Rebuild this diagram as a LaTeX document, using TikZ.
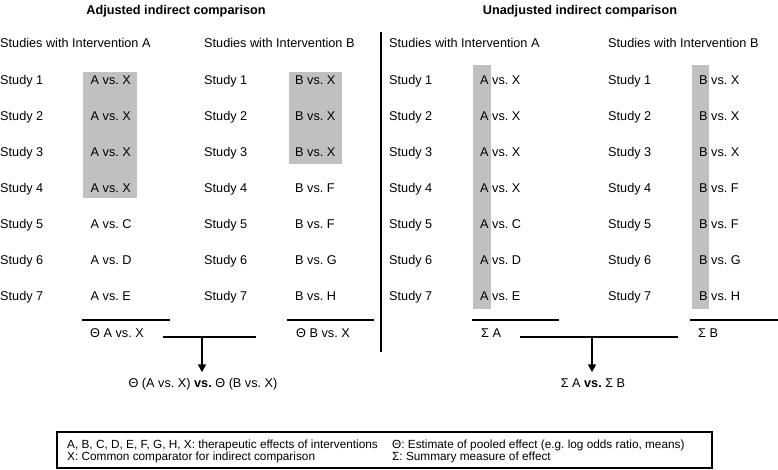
\documentclass[tikz,border=0pt]{standalone}
\usepackage{fontspec}
\setmainfont{Liberation Sans}
\usetikzlibrary{arrows.meta}
\definecolor{boxgrey}{RGB}{192,192,192}

\begin{document}
\frenchspacing
\begin{tikzpicture}[x=1pt, y=-1pt,
  txt/.style={anchor=west, inner sep=0pt, text height=9.1pt, text depth=0pt, font=\fontsize{12.7}{15}\selectfont},
  ttl/.style={inner sep=0pt, text height=9.1pt, text depth=0pt, font=\fontsize{12.7}{15}\selectfont\bfseries},
  note/.style={anchor=west, inner sep=0pt, text height=8.5pt, text depth=0pt, font=\fontsize{11.8}{14}\selectfont},
  rule/.style={line width=1.2pt},
  link/.style={line width=1.6pt},
  tip/.style={-{Triangle[length=8pt,width=8pt]}}]
\useasboundingbox (0,0) rectangle (778,469);

% grey marks behind the rows
\fill[boxgrey] (83,72) rectangle (137,198);
\fill[boxgrey] (289,72) rectangle (342,164);
\fill[boxgrey] (473,65) rectangle (491,309);
\fill[boxgrey] (692,65) rectangle (709,309);

\node[ttl] (adj) at (176,10) {Adjusted indirect comparison};
\node[ttl] (unadj) at (580,10) {Unadjusted indirect comparison};

\node[txt] (ha) at (0,43) {Studies with Intervention A};
\node[txt] (hb) at (204,43) {Studies with Intervention B};
\node[txt] (uha) at (389,43) {Studies with Intervention A};
\node[txt] (uhb) at (608,43) {Studies with Intervention B};

\foreach \i/\a/\b in {1/X/X, 2/X/X, 3/X/X, 4/X/F, 5/C/F, 6/D/G, 7/E/H} {
  \pgfmathsetmacro\y{44+36*\i}
  \node[txt] (sa\i) at (0,\y) {Study \i};
  \node[txt] (va\i) at (90.5,\y) {A vs. \a};
  \node[txt] (sb\i) at (204,\y) {Study \i};
  \node[txt] (vb\i) at (295,\y) {B vs. \b};
  \node[txt] (usa\i) at (389,\y) {Study \i};
  \node[txt] (uva\i) at (480,\y) {A vs. \a};
  \node[txt] (usb\i) at (608,\y) {Study \i};
  \node[txt] (uvb\i) at (699,\y) {B vs. \b};
}

\draw[rule] (381,32) -- (381,352);

% adjusted
\draw[rule] (82,320) -- (170,320);
\draw[rule] (287,320) -- (374,320);
\node[txt] (tha) at (90,333) {Θ A vs. X};
\node[txt] (thb) at (296,333) {Θ B vs. X};
\coordinate (lj) at (202,337);
\draw[link] (163,337) -- (256,337);
\node[txt, anchor=center] (res) at (203,383) {Θ (A vs. X) \textbf{vs.} Θ (B vs. X)};
\draw[link, tip] (lj) -- ([yshift=6pt]res.north -| lj);

% unadjusted
\draw[rule] (472,320) -- (559,320);
\draw[rule] (690,320) -- (778,320);
\node[txt] (sma) at (481,333) {Σ A};
\node[txt] (smb) at (698,333) {Σ B};
\coordinate (rj) at (592,337);
\draw[link] (520,337) -- (678,337);
\node[txt, anchor=center] (ures) at (593,383) {Σ A \textbf{vs.} Σ B};
\draw[link, tip] (rj) -- ([yshift=6pt]ures.north -| rj);

% legend
\draw[rule] (57,432) rectangle (712,468);
\node[note] (k1) at (67,444) {A, B, C, D, E, F, G, H, X: therapeutic effects of interventions};
\node[note] (k2) at (67,456.7) {X: Common comparator for indirect comparison};
\node[note] (k3) at (392,444) {Θ: Estimate of pooled effect (e.g. log odds ratio, means)};
\node[note] (k4) at (392,456.7) {Σ: Summary measure of effect};
\end{tikzpicture}
\end{document}
